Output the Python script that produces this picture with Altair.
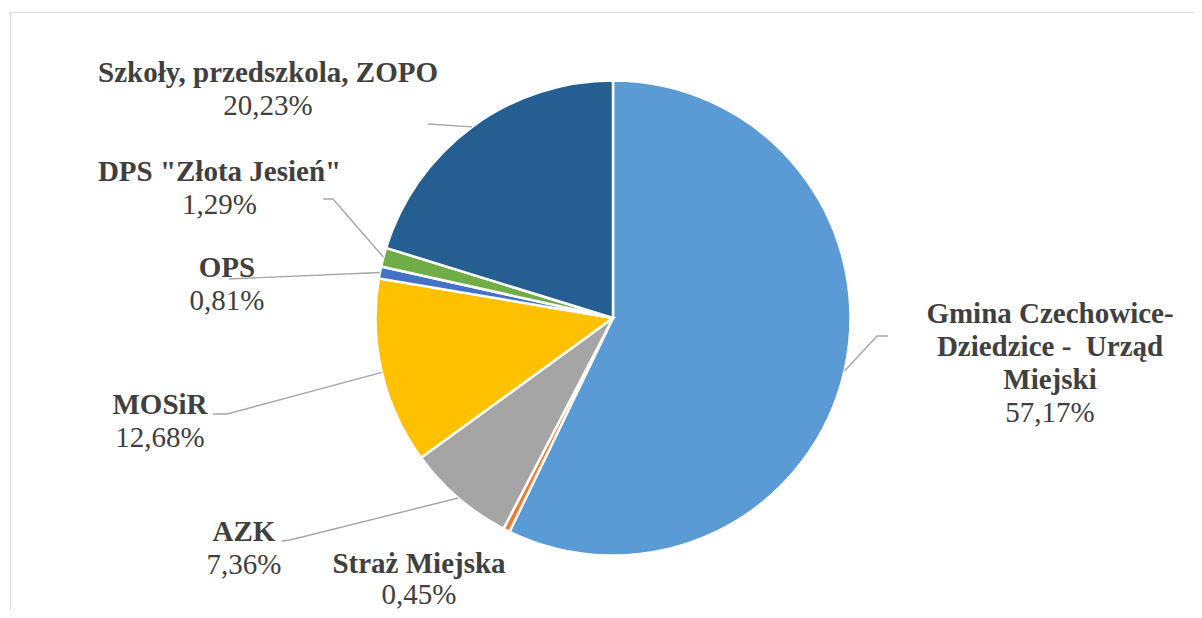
import math
import altair as alt
import pandas as pd

# ---- data ----
categories = [
    "Gmina Czechowice-\nDziedzice - \u00a0Urząd\nMiejski",
    "Straż Miejska",
    "AZK",
    "MOSiR",
    "OPS",
    'DPS "Złota Jesień"',
    "Szkoły, przedszkola, ZOPO",
]
values = [57.17, 0.45, 7.36, 12.68, 0.81, 1.29, 20.23]
colors = ["#5B9BD5", "#ED7D31", "#A5A5A5", "#FFC000", "#4472C4", "#70AD47", "#255E91"]

# ---- layout (plot-area pixels) ----
W, H = 1186, 602
CX, CY, R = 605, 310, 237.5
LINE_H = 33
FONT = "Liberation Serif"
label_cx = [1042, 411, 236, 152, 219, 211.5, 260]
label_first_baseline = [315, 565, 533, 406, 269, 173, 74]
leader_tail = [
    [(869, 328), (880, 328)],
    [],
    [(282, 532), (274, 533)],
    [(219, 406), (205, 406)],
    [(221, 271)],
    [(325, 191), (315, 191)],
    [(420, 116)],
]

pie_df = pd.DataFrame({"cat": categories, "value": values, "idx": range(len(values))})

# leader lines start on the pie edge at each slice's mid angle
total = sum(values)
rows = []
cum = 0.0
for i, (c, v) in enumerate(zip(categories, values)):
    mid = (cum + v / 2) / total * 2 * math.pi
    cum += v
    if not leader_tail[i]:
        continue
    pts = [(CX + R * math.sin(mid), CY - R * math.cos(mid))] + leader_tail[i]
    for k, (px, py) in enumerate(pts):
        rows.append({"cat": c, "k": k, "px": px, "py": py})
lead_df = pd.DataFrame(rows)

name_rows, pct_rows = [], []
for i, (c, v) in enumerate(zip(categories, values)):
    parts = c.split("\n")
    for j, p in enumerate(parts):
        name_rows.append({"t": p, "px": label_cx[i], "py": label_first_baseline[i] + j * LINE_H})
    pct_rows.append({
        "t": f"{v:.2f}".replace(".", ",") + "%",
        "px": label_cx[i],
        "py": label_first_baseline[i] + len(parts) * LINE_H - (2 if i == 1 else 0),
    })
name_df = pd.DataFrame(name_rows)
pct_df = pd.DataFrame(pct_rows)

xs = alt.X("px:Q", scale=alt.Scale(domain=[0, W], nice=False, zero=False), axis=None)
ys = alt.Y("py:Q", scale=alt.Scale(domain=[0, H], reverse=True, nice=False, zero=False), axis=None)

frame_top = alt.Chart(pie_df).mark_rule(color="#D9D9D9", strokeWidth=1).encode(
    x=alt.value(2), x2=alt.value(W + 20), y=alt.value(4.5)
)
frame_left = alt.Chart(pie_df).mark_rule(color="#D9D9D9", strokeWidth=1).encode(
    x=alt.value(2.5), y=alt.value(4), y2=alt.value(H + 20)
)

arcs = alt.Chart(pie_df).mark_arc(radius=R, stroke="white", strokeWidth=2.5).encode(
    theta=alt.Theta("value:Q", stack=True),
    color=alt.Color("cat:N", scale=alt.Scale(domain=categories, range=colors), legend=None),
    order=alt.Order("idx:Q"),
    x=alt.value(CX),
    y=alt.value(CY),
)

leaders = alt.Chart(lead_df).mark_line(color="#A6A6A6", strokeWidth=1.4).encode(
    x=xs, y=ys, detail="cat:N", order="k:Q"
)

names = alt.Chart(name_df).mark_text(
    font=FONT, fontSize=29, fontWeight="bold", color="#404040",
    align="center", baseline="alphabetic",
).encode(x=xs, y=ys, text="t:N")

pcts = alt.Chart(pct_df).mark_text(
    font=FONT, fontSize=29, fontWeight="normal", color="#404040",
    align="center", baseline="alphabetic",
).encode(x=xs, y=ys, text="t:N")

chart = alt.layer(frame_top, frame_left, arcs, leaders, names, pcts).properties(
    width=W, height=H, padding=0,
    autosize=alt.AutoSizeParams(type="none"),
    background="white",
).configure_view(stroke=None)

chart.save("out.html", embed_options={"renderer": "svg", "actions": False})
